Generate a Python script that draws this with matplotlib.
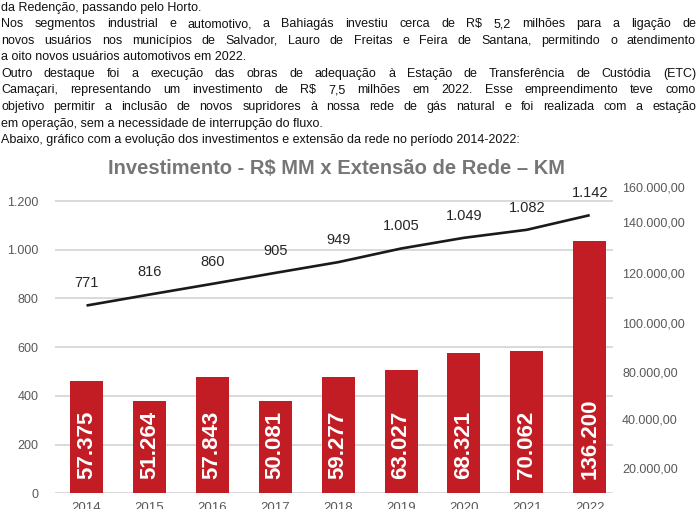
import matplotlib
matplotlib.use('Agg')
import matplotlib.pyplot as plt

plt.rcParams['font.family'] = ['Liberation Sans', 'DejaVu Sans']

W, H = 699, 509

# chart data
years = ['2014', '2015', '2016', '2017', '2018', '2019', '2020', '2021', '2022']
bar_labels = ['57.375', '51.264', '57.843', '50.081', '59.277', '63.027', '68.321', '70.062', '136.200']
# bar heights as they appear against the left scale
bar_heights = [461, 379, 478, 379, 478, 506, 576, 584, 1037]
extensao = [771, 816, 860, 905, 949, 1005, 1049, 1082, 1142]
extensao_labels = ['771', '816', '860', '905', '949', '1.005', '1.049', '1.082', '1.142']
left_ticks = [0, 200, 400, 600, 800, 1000, 1200]
right_tick_labels = ['20.000,00', '40.000,00', '80.000,00', '100.000,00',
                     '120.000,00', '140.000,00', '160.000,00']
title = 'Investimento - R$ MM x Extensão de Rede – KM'

# paragraph above the chart: (text, justified?)
body = [
    ('da Redenção, passando pelo Horto.', False),
    ('Nos segmentos industrial e automotivo, a Bahiagás investiu cerca de R$ 5,2 milhões para a ligação de', True),
    ('novos usuários nos municípios de Salvador, Lauro de Freitas e Feira de Santana, permitindo o atendimento', True),
    ('a oito novos usuários automotivos em 2022.', False),
    ('Outro destaque foi a execução das obras de adequação à Estação de Transferência de Custódia (ETC)', True),
    ('Camaçari, representando um investimento de R$ 7,5 milhões em 2022. Esse empreendimento teve como', True),
    ('objetivo permitir a inclusão de novos supridores à nossa rede de gás natural e foi realizada com a estação', True),
    ('em operação, sem a necessidade de interrupção do fluxo.', False),
    ('Abaixo, gráfico com a evolução dos investimentos e extensão da rede no período 2014-2022:', False),
]

fig = plt.figure(figsize=(W / 100, H / 100), dpi=100)
renderer = fig.canvas.get_renderer()

# --- text block, justified like the source document
text_kw = dict(fontsize=9, color='#111111', va='center')
x_left, x_right = 1, 696
for k, (line, justify) in enumerate(body):
    y = 1 - (7.5 + k * 16.6) / H
    if not justify:
        fig.text(x_left / W, y, line, **text_kw)
        continue
    words = line.split()
    texts = [fig.text(0, y, w, **text_kw) for w in words]
    widths = [t.get_window_extent(renderer).width for t in texts]
    gap = (x_right - x_left - sum(widths)) / (len(words) - 1)
    x = x_left
    for t, w in zip(texts, widths):
        t.set_x(x / W)
        x += w + gap

fig.text(337 / W, 1 - 168 / H, title, ha='center', va='center',
         fontsize=14.5, weight='bold', color='#767676')

# --- chart
ax = fig.add_axes([55 / W, 15.7 / H, 558 / W, 309.3 / H])
xs = list(range(len(years)))

ax.bar(xs, bar_heights, width=0.525, color='#C21D25', zorder=2)
for x, lbl in zip(xs, bar_labels):
    ax.annotate(lbl, (x, 0), xytext=(0, 10), textcoords='offset points',
                rotation=90, ha='center', va='bottom', color='white',
                fontsize=16, weight='bold')

ax.plot(xs, extensao, color='#1a1a1a', lw=1.9, zorder=3, solid_capstyle='butt')
for x, v, lbl in zip(xs, extensao, extensao_labels):
    ax.annotate(lbl, (x, v), xytext=(0, 16), textcoords='offset points',
                ha='center', va='center', color='#262626', fontsize=10.5)

ax.set_xlim(-0.501, 8.37)
ax.set_ylim(0, 1270)
ax.set_yticks(left_ticks, [f'{t:,}'.replace(',', '.') for t in left_ticks])
ax.set_xticks(xs, years)
ax.yaxis.grid(True, color='#d9d9d9', lw=1.4)
ax.set_axisbelow(True)
ax.tick_params(axis='y', length=0, pad=12, labelsize=9, labelcolor='#595959')
ax.tick_params(axis='x', length=0, pad=6.5, labelsize=9.5, labelcolor='#595959')
for s in ax.spines.values():
    s.set_visible(False)

# secondary scale on the right (labels as printed in the source)
ax2 = ax.twinx()
ax2.set_ylim(ax.get_ylim())
ax2.set_yticks([103, 304, 497, 699, 904, 1114, 1257], right_tick_labels)
ax2.tick_params(axis='y', length=0, pad=6.5, labelsize=9, labelcolor='#595959')
for s in ax2.spines.values():
    s.set_visible(False)

fig.savefig('out.png', dpi=100)
